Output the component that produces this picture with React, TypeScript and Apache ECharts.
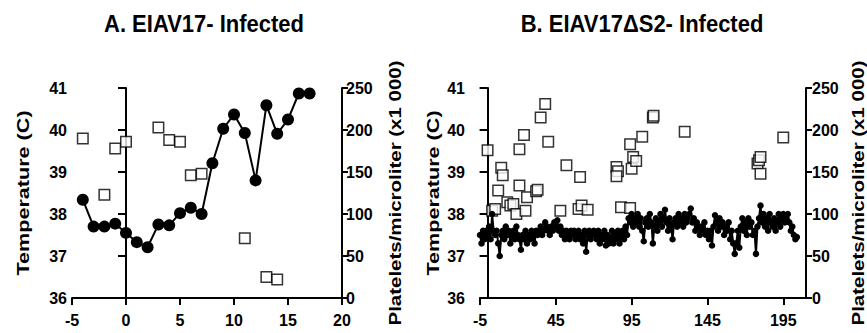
import React, { useEffect, useRef } from 'react';
import * as echarts from 'echarts';

// Panel A: EIAV17 infected
const daysA = [-4, -3, -2, -1, 0, 1, 2, 3, 4, 5, 6, 7, 8, 9, 10, 11, 12, 13, 14, 15, 16, 17];
const tempA = [38.34, 37.7, 37.7, 37.77, 37.55, 37.33, 37.21, 37.75, 37.73, 38.02, 38.15, 38.0, 39.21, 40.03, 40.37, 39.93, 38.8, 40.59, 39.91, 40.25, 40.87, 40.87];
const plateletDaysA = [-4, -2, -1, 0, 3, 4, 5, 6, 7, 11, 13, 14];
const plateletsA = [190, 123, 178, 186, 203, 188, 186, 146, 148, 71, 25, 22];

// Panel B: EIAV17ΔS2 infected (temperature starts at day -5, one reading per day)
const tempBStartDay = -5;
const tempB = [
  37.5, 37.3, 37.6, 37.4, 37.6, 37.5, 37.7, 37.4, 38.0, 37.6,
  37.5, 37.6, 37.3, 37.0, 37.5, 37.6, 37.4, 37.7, 37.5, 37.6,
  37.3, 37.5, 37.6, 37.4, 37.7, 37.5, 37.4, 37.15, 37.5, 37.4,
  37.6, 37.3, 37.5, 37.4, 37.6, 37.5, 37.3, 37.6, 37.5, 37.6,
  37.7, 37.5, 37.6, 37.8, 37.7, 37.6, 37.5, 37.7, 37.6, 37.8,
  37.7, 37.85, 37.6, 37.7, 37.5, 37.6, 37.4, 37.6, 37.5, 37.4,
  37.6, 37.5, 37.6, 37.4, 37.5, 37.6, 37.4, 37.5, 37.3, 37.6,
  37.1, 37.5, 37.6, 37.4, 37.5, 37.6, 37.5, 37.4, 37.6, 37.3,
  37.5, 37.4, 37.6, 37.25, 37.5, 37.3, 37.4, 37.6, 37.3, 37.5,
  37.4, 37.6, 37.3, 37.5, 37.6, 37.4, 37.7, 37.5, 37.9, 37.8,
  38.0, 37.7, 37.9, 37.8, 38.0, 37.7, 37.9, 37.6, 37.35, 37.8,
  37.9, 37.7, 38.0, 37.8, 37.3, 37.7, 37.9, 37.6, 37.8, 38.0,
  37.7, 37.9, 38.1, 37.8, 37.6, 37.9, 37.7, 37.4, 37.8, 37.9,
  37.7, 38.0, 37.8, 37.9, 37.7, 38.0, 37.8, 37.9, 38.0, 38.13,
  37.8, 37.9, 37.6, 37.8, 37.7, 37.5, 37.7, 37.6, 37.8, 37.5,
  37.6, 37.4, 37.6, 37.25, 37.7, 37.97, 37.8, 37.6, 37.9, 37.7,
  37.8, 37.5, 37.7, 37.6, 37.8, 37.4, 37.6, 37.3, 37.05, 37.3,
  37.6, 37.2, 37.7, 37.9, 37.6, 37.8, 37.5, 37.9, 37.7, 37.8,
  37.5, 37.6, 37.05, 37.7, 37.9, 38.2, 37.8, 38.0, 37.7, 37.9,
  37.6, 38.0, 37.8, 37.7, 37.9, 37.6, 37.8, 38.0, 37.7, 37.9,
  38.0, 37.8, 37.9, 38.0, 37.8, 37.6, 37.7, 37.5, 37.4, 37.45,
];
const plateletDaysB = [0, 3, 5, 7, 9, 10, 13, 15, 17, 19, 21, 21, 24, 25, 26, 32, 33, 35, 38, 40, 48, 52, 60, 61, 62, 66, 85, 86, 85, 88, 94, 94, 96, 95, 98, 102, 109, 109.5, 130, 178, 179, 180, 180, 195];
const plateletsB = [176, 104, 106, 128, 155, 146, 114, 110, 112, 100, 134, 177, 194, 104, 120, 127, 129, 215, 231, 186, 104, 158, 106, 144, 110, 105, 156, 151, 145, 108, 107, 183, 168, 154, 163, 192, 215, 217, 198, 160, 164, 168, 148, 191];

const xTicksA = [-5, 0, 5, 10, 15, 20];
const xTicksB = [-5, 45, 95, 145, 195];
const tempTicks = [36, 37, 38, 39, 40, 41];
const plateletTicks = [0, 50, 100, 150, 200, 250];

const FONT = '"Liberation Sans", Arial, Helvetica, sans-serif';

export default function App() {
  const ref = useRef<HTMLDivElement>(null);
  useEffect(() => {
    document.body.style.margin = '0';
    if (!ref.current) return;
    const chart = echarts.init(ref.current, undefined, { renderer: 'svg' });

    const axisLine = { show: true, lineStyle: { color: '#000', width: 2 } };
    const label = (margin: number) => ({
      color: '#000', fontSize: 16, fontWeight: 'bold' as const, fontFamily: FONT, margin,
    });
    const tick = (len: number) => ({ show: true, length: len, lineStyle: { color: '#000', width: 2 } });

    const xAxis = (grid: number, ticks: number[], interval: number) => ({
      type: 'value', gridIndex: grid, min: ticks[0], max: grid === 0 ? 20 : 210, interval,
      axisLine, axisTick: { ...tick(7), customValues: ticks },
      axisLabel: { ...label(14), customValues: ticks },
      splitLine: { show: false },
    });
    const yTemp = (grid: number, margin: number) => ({
      type: 'value', gridIndex: grid, position: 'left', min: tempTicks[0], max: tempTicks[tempTicks.length - 1], interval: 1,
      axisLine, axisTick: tick(8), axisLabel: label(margin), splitLine: { show: false },
    });
    const yPlate = (grid: number, margin: number) => ({
      type: 'value', gridIndex: grid, position: 'right', min: plateletTicks[0], max: plateletTicks[plateletTicks.length - 1], interval: 50,
      axisLine, axisTick: tick(6), axisLabel: label(margin), splitLine: { show: false },
    });

    const square = { color: '#fff', borderColor: '#000', borderWidth: 1.5 };

    const textEl = (text: string, x: number, y: number, size: number, rot: number, sx: number, sy: number) => ({
      type: 'text', x, y, rotation: rot, scaleX: sx, scaleY: sy, silent: true,
      style: { text, font: `bold ${size}px ${FONT}`, fill: '#000', textAlign: 'center', textVerticalAlign: 'middle' },
    });

    chart.setOption({
      animation: false,
      backgroundColor: '#fff',
      grid: [
        { left: 72, top: 88, width: 270, height: 210 },
        { left: 480, top: 88, width: 326, height: 210 },
      ],
      xAxis: [xAxis(0, xTicksA, 5), xAxis(1, xTicksB, 50)],
      yAxis: [yTemp(0, 5), yPlate(0, 4), yTemp(1, 15), yPlate(1, 6)],
      series: [
        {
          type: 'scatter', xAxisIndex: 0, yAxisIndex: 1, z: 2, symbol: 'rect', symbolSize: 10.5,
          itemStyle: square, data: plateletDaysA.map((d, i) => [d, plateletsA[i]]),
        },
        {
          type: 'line', xAxisIndex: 0, yAxisIndex: 0, z: 3, symbol: 'circle', symbolSize: 12,
          itemStyle: { color: '#000' }, lineStyle: { color: '#000', width: 2 },
          data: daysA.map((d, i) => [d, tempA[i]]),
        },
        {
          type: 'scatter', xAxisIndex: 1, yAxisIndex: 3, z: 2, symbol: 'rect', symbolSize: 10.5,
          itemStyle: square, data: plateletDaysB.map((d, i) => [d, plateletsB[i]]),
        },
        {
          type: 'line', xAxisIndex: 1, yAxisIndex: 2, z: 3, symbol: 'circle', symbolSize: 6.5,
          itemStyle: { color: '#000' }, lineStyle: { color: '#000', width: 2 },
          data: tempB.map((t, i) => [tempBStartDay + i, t]),
        },
      ],
      graphic: [
        textEl('A. EIAV17- Infected', 204, 24, 22, 0, 1, 1.12),
        textEl('B. EIAV17ΔS2- Infected', 642, 24, 22, 0, 1, 1.12),
        textEl('Temperature (C)', 24, 193, 16, Math.PI / 2, 1.35, 1),
        textEl('Platelets/microliter (x1 000)', 395, 193, 16, Math.PI / 2, 1.28, 1),
        textEl('Temperature (C)', 434, 193, 16, Math.PI / 2, 1.35, 1),
        textEl('Platelets/microliter (x1 000)', 858, 193, 16, Math.PI / 2, 1.28, 1),
      ],
    });
    return () => chart.dispose();
  }, []);
  return <div ref={ref} style={{ width: 867, height: 333 }} />;
}
